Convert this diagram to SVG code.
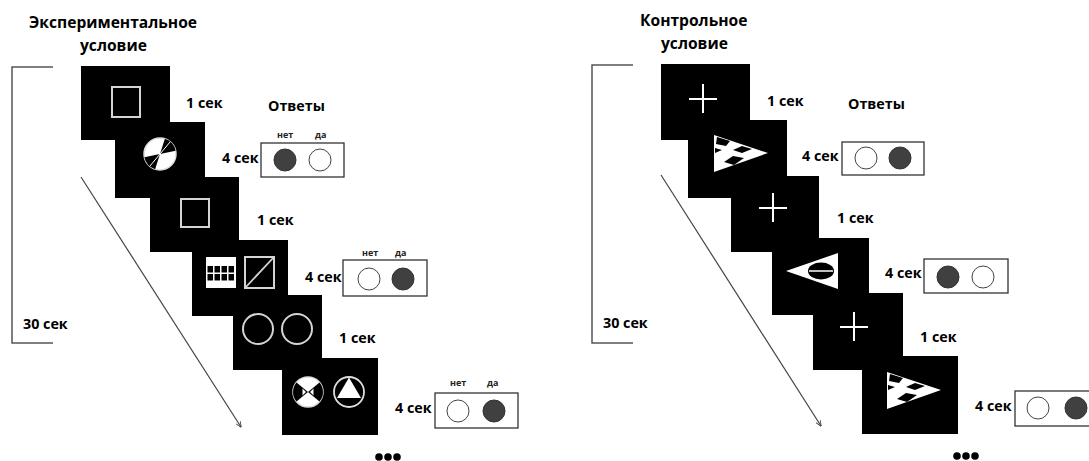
<svg xmlns="http://www.w3.org/2000/svg" xmlns:xlink="http://www.w3.org/1999/xlink" width="1089" height="461" viewBox="0 0 1089 461">
<style>
.t{font-family:"Open Sans","Noto Sans","DejaVu Sans",sans-serif;font-weight:bold;fill:#000}
.h{font-size:15.6px}
.m{font-size:14.3px}
.s{font-size:9px;fill:#222}
.fr{fill:#000}
.ol{fill:none;stroke:#d4d4d4;stroke-width:2}
.wl{stroke:#fff;stroke-width:2;fill:none}
.box{fill:#fff;stroke:#333;stroke-width:1.3}
.dk{fill:#404040;stroke:#333;stroke-width:1}
.wt{fill:#fff;stroke:#444;stroke-width:1}
.br{fill:none;stroke:#555;stroke-width:1.5}
.ar{stroke:#444;stroke-width:1.2;fill:none}
</style>
<defs>
<marker id="ah" viewBox="0 0 10 10" refX="9" refY="5" markerWidth="6" markerHeight="6" orient="auto" markerUnits="userSpaceOnUse">
<path d="M0,1 L10,5 L0,9" fill="none" stroke="#444" stroke-width="1.5"/>
</marker>
<g id="flag">
<polygon points="714,135 714,172 768,153" fill="#fff"/>
<polygon points="717,137 730,141 726,146 716,144" fill="#000"/>
<polygon points="733,150 742,146 752,149 742,153" fill="#000"/>
<polygon points="715,148 722,150 715,153" fill="#000"/>
<polygon points="724,162 733,156 744,158 734,165" fill="#000"/>
</g>
</defs>

<!-- Left panel -->
<g id="title-left">
<text class="t h" x="29" y="28">Экспериментальное</text>
<text class="t h" x="80" y="51">условие</text>
</g>
<g id="bracket-left">
<polyline class="br" points="53,67 12,67 12,343 53,343"/>
<text class="t m" x="23" y="329">30 сек</text>
</g>

<g id="L-frame1">
<rect class="fr" x="81" y="66" width="89" height="74"/>
<rect class="ol" x="112" y="87" width="28" height="30"/>
<text class="t m" x="186" y="108">1 сек</text>
</g>
<g id="L-frame2">
<rect class="fr" x="115" y="122" width="90" height="76"/>
<circle cx="160" cy="154" r="16" fill="#fff" stroke="#ddd" stroke-width="1.5"/>
<path d="M160,154 L175.6,150.7 A16,16 0 0 0 164.9,138.8 Z" fill="#000"/>
<path d="M160,154 L144.4,157.3 A16,16 0 0 0 155.1,169.2 Z" fill="#000"/>
<line x1="160" y1="154" x2="170.3" y2="141.7" stroke="#fff" stroke-width="1"/>
<line x1="160" y1="154" x2="149.7" y2="166.3" stroke="#fff" stroke-width="1"/>
<text class="t m" x="222" y="163">4 сек</text>
</g>
<g id="L-frame3">
<rect class="fr" x="150" y="177" width="89" height="75"/>
<rect class="ol" x="181" y="199" width="28" height="28"/>
<text class="t m" x="257" y="225">1 сек</text>
</g>
<g id="L-frame4">
<rect class="fr" x="192" y="240" width="96" height="76"/>
<rect x="206" y="257" width="30" height="31" fill="#fff"/>
<g fill="#000">
<rect x="207.5" y="266" width="5.5" height="6.5"/>
<rect x="214.5" y="266" width="5.5" height="6.5"/>
<rect x="221.5" y="266" width="5.5" height="6.5"/>
<rect x="228.5" y="266" width="5.5" height="6.5"/>
<rect x="207.5" y="274" width="5.5" height="6.5"/>
<rect x="214.5" y="274" width="5.5" height="6.5"/>
<rect x="221.5" y="274" width="5.5" height="6.5"/>
<rect x="228.5" y="274" width="5.5" height="6.5"/>
</g>
<rect class="ol" x="245" y="257" width="29" height="31"/>
<line x1="245" y1="288" x2="274" y2="257" stroke="#d4d4d4" stroke-width="1.8"/>
<text class="t m" x="305" y="282">4 сек</text>
</g>
<g id="L-frame5">
<rect class="fr" x="233" y="295" width="89" height="75"/>
<circle class="ol" cx="258" cy="329" r="15"/>
<circle class="ol" cx="297" cy="329" r="15"/>
<text class="t m" x="339" y="343">1 сек</text>
</g>
<g id="L-frame6">
<rect class="fr" x="282" y="358" width="96" height="77"/>
<circle cx="308" cy="392" r="15" fill="#fff" stroke="#ddd" stroke-width="1.5"/>
<path d="M308,392 L319.5,401.6 A15,15 0 0 0 319.5,382.4 Z" fill="#000"/>
<path d="M308,392 L296.5,382.4 A15,15 0 0 0 296.5,401.6 Z" fill="#000"/>
<polygon points="302.5,388.5 306,392 302.5,395.5" fill="#fff"/>
<polygon points="313.5,388.5 310,392 313.5,395.5" fill="#fff"/>
<circle cx="349" cy="392" r="15" fill="#000" stroke="#ddd" stroke-width="1.8"/>
<polygon points="349,377.5 337,398 361,398" fill="#fff"/>
<text class="t m" x="395" y="413">4 сек</text>
</g>

<g id="L-answers-title">
<text class="t m" x="268" y="111">Ответы</text>
</g>
<g id="L-answer1">
<text class="t s" x="277" y="138">нет</text>
<text class="t s" x="315" y="138">да</text>
<rect class="box" x="261" y="143" width="83" height="34"/>
<circle class="dk" cx="285" cy="160" r="11"/>
<circle class="wt" cx="320" cy="160" r="11"/>
</g>
<g id="L-answer2">
<text class="t s" x="362" y="256">нет</text>
<text class="t s" x="395" y="256">да</text>
<rect class="box" x="343" y="260" width="84" height="36"/>
<circle class="wt" cx="369" cy="279" r="11"/>
<circle class="dk" cx="403" cy="279" r="11"/>
</g>
<g id="L-answer3">
<text class="t s" x="450" y="386">нет</text>
<text class="t s" x="487" y="386">да</text>
<rect class="box" x="435" y="393" width="83" height="35"/>
<circle class="wt" cx="458" cy="411" r="11"/>
<circle class="dk" cx="494" cy="411" r="11"/>
</g>
<g id="L-dots" fill="#000">
<circle cx="379" cy="457" r="3.8"/>
<circle cx="388" cy="457" r="3.8"/>
<circle cx="397" cy="457" r="3.8"/>
</g>

<!-- Right panel -->
<g id="title-right">
<text class="t h" x="640" y="26">Контрольное</text>
<text class="t h" x="661" y="49">условие</text>
</g>
<g id="bracket-right">
<polyline class="br" points="633,65 592,65 592,343 633,343"/>
<text class="t m" x="603" y="328">30 сек</text>
</g>

<g id="R-frame1">
<rect class="fr" x="661" y="64" width="89" height="76"/>
<line class="wl" x1="689" y1="99" x2="717" y2="99"/>
<line class="wl" x1="703" y1="84" x2="703" y2="113"/>
<text class="t m" x="767" y="106">1 сек</text>
</g>
<g id="R-frame2">
<rect class="fr" x="688" y="120" width="99" height="78"/>
<use xlink:href="#flag"/>
<text class="t m" x="802" y="161">4 сек</text>
</g>
<g id="R-frame3">
<rect class="fr" x="731" y="176" width="88" height="76"/>
<line class="wl" x1="759" y1="208" x2="787" y2="208"/>
<line class="wl" x1="773" y1="193" x2="773" y2="222"/>
<text class="t m" x="837" y="223">1 сек</text>
</g>
<g id="R-frame4">
<rect class="fr" x="772" y="238" width="97" height="77"/>
<polygon points="786,271 838,253 838,289" fill="#fff"/>
<ellipse cx="821" cy="271" rx="13" ry="8.5" fill="#000"/>
<line x1="809" y1="271" x2="833" y2="271" stroke="#fff" stroke-width="1.5"/>
<text class="t m" x="885" y="278">4 сек</text>
</g>
<g id="R-frame5">
<rect class="fr" x="813" y="293" width="90" height="77"/>
<line class="wl" x1="840" y1="327" x2="868" y2="327"/>
<line class="wl" x1="854" y1="312" x2="854" y2="341"/>
<text class="t m" x="920" y="342">1 сек</text>
</g>
<g id="R-frame6">
<rect class="fr" x="862" y="356" width="96" height="78"/>
<use xlink:href="#flag" transform="translate(173,237)"/>
<text class="t m" x="975" y="411">4 сек</text>
</g>

<g id="R-answers-title">
<text class="t m" x="848" y="109">Ответы</text>
</g>
<g id="R-answer1">
<rect class="box" x="842" y="142" width="82" height="33"/>
<circle class="wt" cx="866" cy="158" r="11"/>
<circle class="dk" cx="900" cy="158" r="11"/>
</g>
<g id="R-answer2">
<rect class="box" x="924" y="259" width="84" height="34"/>
<circle class="dk" cx="948" cy="277" r="11"/>
<circle class="wt" cx="983" cy="277" r="11"/>
</g>
<g id="R-answer3">
<rect class="box" x="1015" y="391" width="84" height="35"/>
<circle class="wt" cx="1038" cy="408" r="11"/>
<circle class="dk" cx="1076" cy="408" r="11"/>
</g>
<g id="R-dots" fill="#000">
<circle cx="957" cy="456" r="3.8"/>
<circle cx="966" cy="456" r="3.8"/>
<circle cx="975" cy="456" r="3.8"/>
</g>

<g id="connectors">
<line class="ar" x1="81" y1="177" x2="241" y2="427" marker-end="url(#ah)"/>
<line class="ar" x1="661" y1="175" x2="821" y2="426" marker-end="url(#ah)"/>
</g>
</svg>
